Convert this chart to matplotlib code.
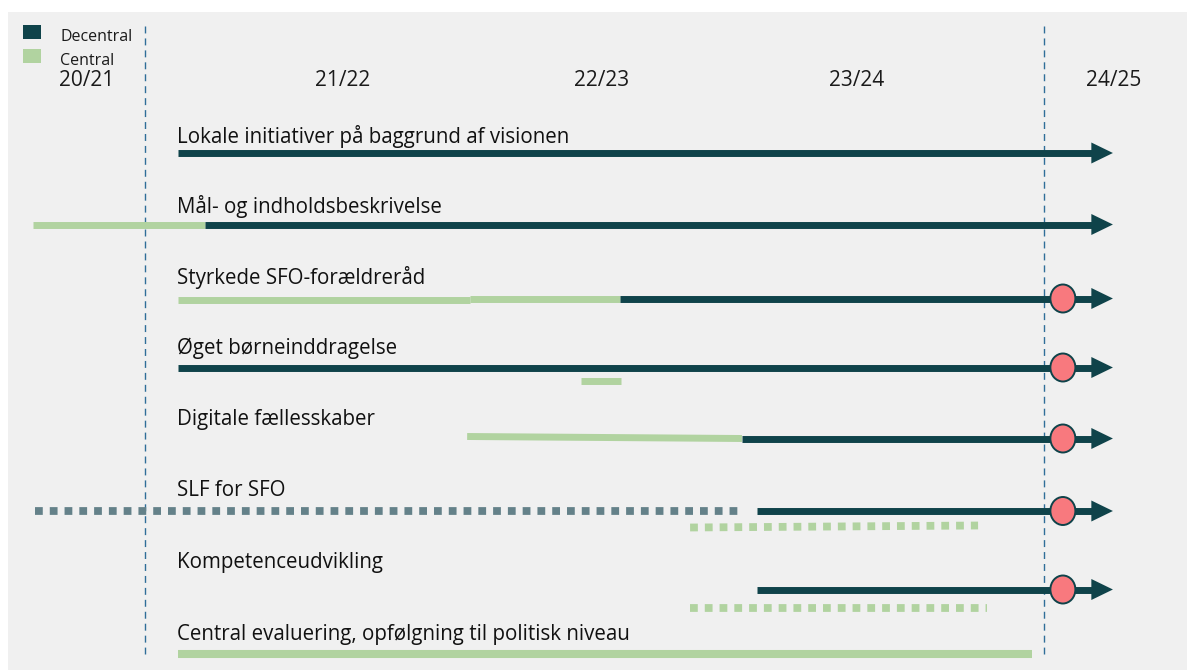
import matplotlib
import matplotlib.pyplot as plt
from matplotlib.patches import Ellipse, Rectangle

matplotlib.use('Agg')
plt.rcParams['font.family'] = ['Open Sans', 'DejaVu Sans']

# Colours.
DARK = '#0f434a'
GREEN = '#b1d3a0'
DOTTED = '#648189'
MILESTONE = '#f8797e'
GUIDE = '#2f6e99'

# School years along the top (positions in years, 2021.0 = start of 21/22).
years = ['20/21', '21/22', '22/23', '23/24', '24/25']
year_pos = [2020.806, 2021.661, 2022.522, 2023.376, 2024.234]
guide_pos = [2021.0, 2024.0]

# Activities, one row each.
labels = ['Lokale initiativer på baggrund af visionen',
          'Mål- og indholdsbeskrivelse',
          'Styrkede SFO-forældreråd',
          'Øget børneinddragelse',
          'Digitale fællesskaber',
          'SLF for SFO',
          'Kompetenceudvikling',
          'Central evaluering, opfølgning til politisk niveau']
row_y = [153, 224.5, 298.5, 367.5, 438.5, 511, 589.5, 654]
label_y = [143, 213, 284, 354, 425, 496, 568, 640]

# Decentral phases (solid, ending in an arrow).
dec_rows = [0, 1, 2, 3, 4, 5, 6]
dec_start = [2021.110, 2021.200, 2022.585, 2021.110, 2022.992, 2023.042,
             2023.042]
arrow_tip = 2024.230
arrow_len = 0.072

# Central phases (solid).
cen_rows = [1, 2, 2, 3, 4, 7]
cen_start = [2020.626, 2021.110, 2022.085, 2022.455, 2022.075, 2021.110]
cen_end = [2021.200, 2022.085, 2022.585, 2022.588, 2022.992, 2023.960]
cen_y0 = [224.5, 299.5, 298.5, 381, 436.5, 654]
cen_y1 = [224.5, 299.5, 298.5, 381, 438.5, 654]

# Planned phases (dotted).
plan_dec_rows = [5]
plan_dec_start = [2020.633]
plan_dec_end = [2022.982]
plan_cen_start = [2022.819, 2022.819]
plan_cen_end = [2023.780, 2023.810]
plan_cen_y0 = [527.5, 607.5]
plan_cen_y1 = [525.5, 607.5]

# Milestones.
milestone_rows = [2, 3, 4, 5, 6]
milestone_pos = 2024.063

legend_names = ['Decentral', 'Central']
legend_colors = [DARK, GREEN]

fig = plt.figure(figsize=(11.87, 6.70), dpi=100)
fig.patch.set_facecolor('white')
ax = fig.add_axes([8 / 1187, 0, 1 - 8 / 1187, 658 / 670])
ax.set_facecolor('#f0f0f0')
ax.set_xlim(2020.5428, 2024.4772)
ax.set_ylim(670, 12)
ax.axis('off')
ax.add_patch(Rectangle((0, 0), 1, 1, transform=ax.transAxes,
                       color='#f0f0f0', zorder=0))

px_year = 299.67  # pixels per year, used for sizes only

# Guide lines.
for g in guide_pos:
    ax.plot([g, g], [26, 654], color=GUIDE, lw=1.0,
            linestyle=(0, (5, 3.6)), zorder=1)

# Year labels.
for name, pos in zip(years, year_pos):
    ax.text(pos, 86, name, ha='center', va='baseline', fontsize=15,
            color='#1a1a1a')

# Activity labels.
for text, y in zip(labels, label_y):
    ax.text(2021.107, y, text, ha='left', va='baseline', fontsize=14.8,
            color='#111111')

# Central phases.
for r, s, e, y0, y1 in zip(cen_rows, cen_start, cen_end, cen_y0, cen_y1):
    lw = 5.8 if r == 7 else 5.0
    ax.plot([s, e], [y0, y1], color=GREEN, lw=lw, solid_capstyle='butt',
            zorder=2)

# Decentral phases with arrow heads.
for r, s in zip(dec_rows, dec_start):
    y = row_y[r]
    base = arrow_tip - arrow_len
    ax.plot([s, base + 0.005], [y, y], color=DARK, lw=5.0,
            solid_capstyle='butt', zorder=3)
    ax.fill([base, arrow_tip, base], [y - 10.5, y, y + 10.5], color=DARK,
            lw=0, zorder=3)

# Planned phases.
for r, s, e in zip(plan_dec_rows, plan_dec_start, plan_dec_end):
    ax.plot([s, e], [row_y[r], row_y[r]], color=DOTTED, lw=5.6,
            linestyle=(0, (1.0, 0.9)), dash_capstyle='butt', zorder=2)
for s, e, y0, y1 in zip(plan_cen_start, plan_cen_end, plan_cen_y0,
                        plan_cen_y1):
    ax.plot([s, e], [y0, y1], color=GREEN, lw=5.6,
            linestyle=(0, (1.0, 0.9)), dash_capstyle='butt', zorder=2)

# Milestones.
for r in milestone_rows:
    ax.add_patch(Ellipse((milestone_pos, row_y[r]), 25 / px_year, 28,
                         facecolor=MILESTONE, edgecolor=DARK, lw=1.4,
                         zorder=4))

# Legend.
for i, (name, col) in enumerate(zip(legend_names, legend_colors)):
    top = 25 + i * 24
    ax.add_patch(Rectangle((2020.5928, top), 18 / px_year, 14,
                           facecolor=col, edgecolor='none', zorder=3))
    ax.text(2020.7164, top + 12, name, ha='left', va='center', fontsize=11.5,
            color='#1a1a1a')

fig.savefig('out.png', dpi=100, facecolor=fig.get_facecolor())
